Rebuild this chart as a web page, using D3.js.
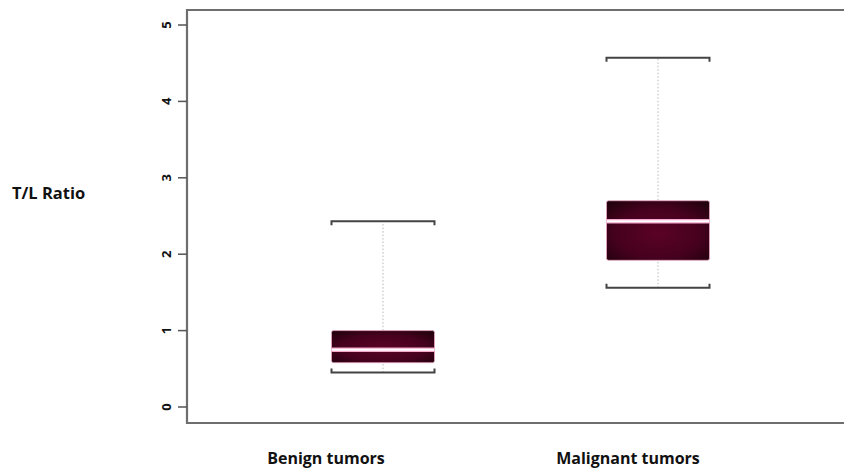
<!DOCTYPE html>
<meta charset="utf-8">
<head>
    <title>T/L Ratio boxplot</title>
    <script src="https://d3js.org/d3.v7.min.js"></script>
    <style>
        body { margin: 0; background: #ffffff; }
        text { font-family: "Open Sans", Lato, sans-serif; font-weight: bold; fill: #111; }
    </style>
</head>
<body>
<div id="my_dataviz"></div>
<script>

// data
var groups = ["Benign tumors", "Malignant tumors"];
var lowWhisker = [0.45, 1.56];
var q1 = [0.58, 1.92];
var medians = [0.75, 2.43];
var q3 = [1.0, 2.70];
var highWhisker = [2.43, 4.57];
var yTicks = [0, 1, 2, 3, 4, 5];

var W = 844, H = 476;
var plot = {left: 187, right: 850, top: 10, bottom: 423};

var svg = d3.select("#my_dataviz")
    .append("svg")
    .attr("width", W)
    .attr("height", H);

var y = d3.scaleLinear()
    .domain([0, 5])
    .range([407, 25]);

var x = d3.scalePoint()
    .domain(groups)
    .range([383, 658]);

var boxW = 103;

// gradient for the boxes
var defs = svg.append("defs");
var grad = defs.append("radialGradient")
    .attr("id", "boxfill")
    .attr("cx", "50%").attr("cy", "55%").attr("r", "75%");
grad.append("stop").attr("offset", "0%").attr("stop-color", "#5a0227");
grad.append("stop").attr("offset", "55%").attr("stop-color", "#46011e");
grad.append("stop").attr("offset", "100%").attr("stop-color", "#1a0008");

// frame (open on the right)
svg.append("path")
    .attr("d", "M" + plot.right + "," + plot.top + "H" + plot.left + "V" + plot.bottom + "H" + plot.right)
    .attr("fill", "none")
    .attr("stroke", "#6e6e6e")
    .attr("stroke-width", 2.2);

// Y axis ticks and labels
svg.selectAll(".ytick")
    .data(yTicks)
    .enter().append("line")
    .attr("x1", 178).attr("x2", plot.left)
    .attr("y1", function(d) { return y(d); })
    .attr("y2", function(d) { return y(d); })
    .attr("stroke", "#555")
    .attr("stroke-width", 1.5);

svg.selectAll(".ylab")
    .data(yTicks)
    .enter().append("text")
    .attr("transform", function(d) { return "translate(171," + y(d) + ") rotate(-90)"; })
    .attr("text-anchor", "middle")
    .style("font-size", "13px")
    .text(function(d) { return d; });

// Y axis title
svg.append("text")
    .attr("x", 12).attr("y", 199)
    .style("font-size", "16.5px")
    .text("T/L Ratio");

// whiskers
var idx = d3.range(groups.length);
var g = svg.selectAll(".grp")
    .data(idx)
    .enter().append("g");

g.append("line")
    .attr("x1", function(i) { return x(groups[i]); })
    .attr("x2", function(i) { return x(groups[i]); })
    .attr("y1", function(i) { return y(lowWhisker[i]); })
    .attr("y2", function(i) { return y(highWhisker[i]); })
    .attr("stroke", "#b8b8b8")
    .attr("stroke-width", 1)
    .attr("stroke-dasharray", "1.5,2");

// staples with small hooks
g.append("path")
    .attr("d", function(i) {
        var cx = x(groups[i]), yy = y(highWhisker[i]);
        return "M" + (cx - boxW / 2) + "," + (yy + 4) + "V" + yy + "H" + (cx + boxW / 2) + "V" + (yy + 4);
    })
    .attr("fill", "none")
    .attr("stroke", "#444")
    .attr("stroke-width", 2);

g.append("path")
    .attr("d", function(i) {
        var cx = x(groups[i]), yy = y(lowWhisker[i]);
        return "M" + (cx - boxW / 2) + "," + (yy - 4) + "V" + yy + "H" + (cx + boxW / 2) + "V" + (yy - 4);
    })
    .attr("fill", "none")
    .attr("stroke", "#444")
    .attr("stroke-width", 2);

// boxes
g.append("rect")
    .attr("x", function(i) { return x(groups[i]) - boxW / 2; })
    .attr("width", boxW)
    .attr("y", function(i) { return y(q3[i]); })
    .attr("height", function(i) { return y(q1[i]) - y(q3[i]); })
    .attr("rx", 2)
    .attr("fill", "url(#boxfill)")
    .attr("stroke", "#e9a6c4")
    .attr("stroke-width", 0.8);

// medians
g.append("line")
    .attr("x1", function(i) { return x(groups[i]) - boxW / 2; })
    .attr("x2", function(i) { return x(groups[i]) + boxW / 2; })
    .attr("y1", function(i) { return y(medians[i]); })
    .attr("y2", function(i) { return y(medians[i]); })
    .attr("stroke", "#f2a9cc")
    .attr("stroke-width", 4.5);
g.append("line")
    .attr("x1", function(i) { return x(groups[i]) - boxW / 2; })
    .attr("x2", function(i) { return x(groups[i]) + boxW / 2; })
    .attr("y1", function(i) { return y(medians[i]); })
    .attr("y2", function(i) { return y(medians[i]); })
    .attr("stroke", "#ffffff")
    .attr("stroke-width", 2);

// category labels (sit a little left of the boxes)
g.append("text")
    .attr("x", function(i) { return x(groups[i]) - [57, 30][i]; })
    .attr("y", 464)
    .attr("text-anchor", "middle")
    .style("font-size", "16px")
    .text(function(i) { return groups[i]; });

</script>
</body>
</html>
